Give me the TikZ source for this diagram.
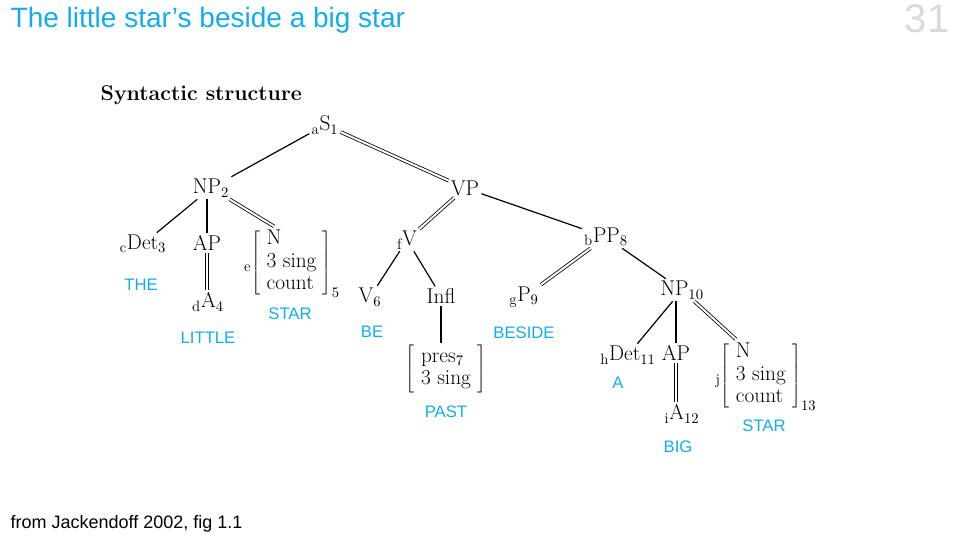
\documentclass[tikz,border=0pt]{standalone}
\usepackage{fontspec}
\newfontfamily\helv{Liberation Sans}
\usetikzlibrary{calc}
\definecolor{starblue}{RGB}{18,172,238}
\definecolor{pagegray}{RGB}{218,218,218}
\newcommand\fmat[3]{$\vphantom{\left[\begin{tabular}{@{}l@{}}#2\end{tabular}\right]}_{\mathrm{#1}}\!\left[\;\begin{tabular}{@{}l@{}}#2\end{tabular}\;\right]_{#3}$}
\tikzset{
  cat/.style={font=\fontsize{16}{17}\selectfont, inner sep=1.5pt},
  gloss/.style={font=\helv\fontsize{12.5}{14}\selectfont, text=starblue},
  branch/.style={line width=0.9pt},
  dbl/.style={double, double distance=1.5pt, line width=0.6pt},
}

\begin{document}
\begin{tikzpicture}[x=0.75pt,y=-0.75pt]
			%%%%% FRAME %%%%%
			\useasboundingbox (0,0) rectangle (960,540);
			\node[anchor=west, font=\helv\fontsize{21}{24}\selectfont, text=starblue] (title) at (6,20) {The little star’s beside a big star};
			\node[anchor=east, font=\helv\fontsize{30}{32}\selectfont, text=pagegray] (page) at (954,19) {31};
			\node[anchor=west, font=\helv\fontsize{13.5}{15}\selectfont] (source) at (6,524) {from Jackendoff 2002, fig 1.1};
			\node[anchor=west, font=\fontsize{16}{18}\selectfont\bfseries] (head) at (96,95) {Syntactic structure};
			
			%%%%% NODES %%%%%
			\node[cat] (s1) at (325,125) {${}_{\mathrm a}$S$_1$};
			\node[cat] (np2) at (211,188) {NP$_2$};
			\node[cat] (vp) at (465,188) {VP};
			
			\node[cat] (det3) at (143,244) {${}_{\mathrm c}$Det$_3$};
			\node[cat] (ap1) at (207,243) {AP};
			\node[cat] (a4) at (208,302) {${}_{\mathrm d}$A$_4$};
			\node[cat] (n5) at (292,263) {\fmat{e}{N\\3 sing\\count}{5}};
			
			\node[cat] (fv) at (407,240) {${}_{\mathrm f}$V};
			\node[cat] (v6) at (370,297) {V$_6$};
			\node[cat] (infl) at (441,296) {Infl};
			\node[cat] (pres7) at (446,369) {$\left[\;\begin{tabular}{@{}l@{}}pres$_7$\\3 sing\end{tabular}\;\right]$};
			
			\node[cat] (pp8) at (606,237) {${}_{\mathrm b}$PP$_8$};
			\node[cat] (p9) at (524,297) {${}_{\mathrm g}$P$_9$};
			\node[cat] (np10) at (682,290) {NP$_{10}$};
			\node[cat] (det11) at (628,355) {${}_{\mathrm h}$Det$_{11}$};
			\node[cat] (ap2) at (676,353) {AP};
			\node[cat] (a12) at (682,414) {${}_{\mathrm i}$A$_{12}$};
			\node[cat] (n13) at (766,376) {\fmat{j}{N\\3 sing\\count}{13}};
			
			%%%%% GLOSSES %%%%%
			\node[gloss] (the) at (141,285) {THE};
			\node[gloss] (little) at (208,338) {LITTLE};
			\node[gloss] (star1) at (290,314) {STAR};
			\node[gloss] (be) at (372,332) {BE};
			\node[gloss] (beside) at (524,333) {BESIDE};
			\node[gloss] (past) at (446,412) {PAST};
			\node[gloss] (a) at (618,383) {A};
			\node[gloss] (big) at (678,447) {BIG};
			\node[gloss] (star2) at (764,426) {STAR};
			
			%%%%% BRANCHES %%%%%
			\draw[branch] (s1) -- (np2);
			\draw[dbl] (s1) -- (vp);
			
			\draw[branch] (np2) -- (det3);
			\draw[branch] (ap1 |- np2.south) -- (ap1.north);
			\draw[dbl] (np2) -- ($(n5.north)+(-18,0)$);
			\draw[dbl] (ap1.south) -- (ap1.south |- a4.north);
			
			\draw[dbl] (vp) -- (fv);
			\draw[branch] (vp) -- (pp8);
			\draw[branch] (fv) -- (v6);
			\draw[branch] (fv) -- (infl);
			\draw[branch] (infl.south) -- (infl.south |- pres7.north);
			
			\draw[dbl] (pp8) -- (p9);
			\draw[branch] (pp8) -- (np10);
			\draw[branch] (np10) -- (det11);
			\draw[branch] (ap2 |- np10.south) -- (ap2.north);
			\draw[dbl] (np10) -- ($(n13.north)+(-30,0)$);
			\draw[dbl] (ap2.south) -- (ap2.south |- a12.north);
		\end{tikzpicture}
\end{document}
